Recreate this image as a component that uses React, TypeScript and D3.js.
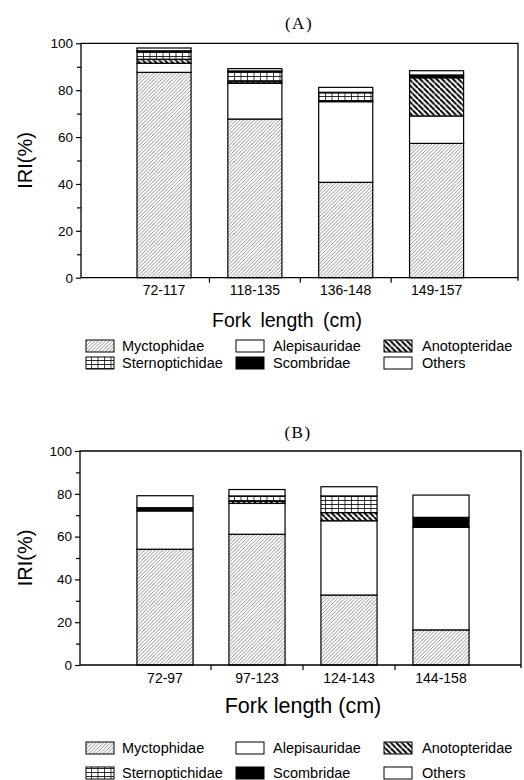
import React, { useRef, useEffect } from 'react';
import * as d3 from 'd3';

// families in stacking order (bottom to top)
const families = ['Myctophidae', 'Alepisauridae', 'Anotopteridae', 'Sternoptichidae', 'Scombridae', 'Others'];

// Panel A
const groupsA = ['72-117', '118-135', '136-148', '149-157'];
const myctA = [87.6, 67.7, 40.7, 57.3];
const alepA = [3.9, 15.2, 34.4, 11.7];
const anotA = [1.7, 0.7, 0.3, 16.3];
const sternA = [3.2, 4.3, 3.5, 0];
const scombA = [0.4, 0.3, 0.2, 1.2];
const othersA = [1.2, 1.0, 2.1, 1.8];

// Panel B
const groupsB = ['72-97', '97-123', '124-143', '144-158'];
const myctB = [54.1, 61.1, 32.7, 16.4];
const alepB = [17.9, 14.4, 34.7, 47.9];
const anotB = [0, 1.0, 3.8, 0];
const sternB = [0, 2.5, 7.8, 0];
const scombB = [1.5, 0, 0, 4.7];
const othersB = [5.6, 3.0, 4.3, 10.4];

const yTicks = [0, 20, 40, 60, 80, 100];
const yMinor = [10, 30, 50, 70, 90];

const fills: Record<string, string> = {
  Myctophidae: 'url(#hatch)',
  Alepisauridae: '#fff',
  Anotopteridae: 'url(#thick)',
  Sternoptichidae: 'url(#grid)',
  Scombridae: '#000',
  Others: '#fff',
};

const sans = '"Liberation Sans", Arial, sans-serif';

const App = () => {
  const ref = useRef<SVGSVGElement>(null);

  useEffect(() => {
    const svg = d3.select(ref.current);
    svg.selectAll('*').remove();

    const defs = svg.append('defs');
    const hatch = defs.append('pattern').attr('id', 'hatch')
      .attr('patternUnits', 'userSpaceOnUse').attr('width', 3.6).attr('height', 3.6);
    hatch.append('rect').attr('width', 3.6).attr('height', 3.6).attr('fill', '#fff');
    hatch.append('path').attr('d', 'M-1,1 l2,-2 M0,3.6 l3.6,-3.6 M2.6,4.6 l2,-2')
      .attr('stroke', '#333').attr('stroke-width', 0.55);

    const thick = defs.append('pattern').attr('id', 'thick')
      .attr('patternUnits', 'userSpaceOnUse').attr('width', 5.5).attr('height', 5.5);
    thick.append('rect').attr('width', 5.5).attr('height', 5.5).attr('fill', '#fff');
    thick.append('path').attr('d', 'M0,0 l5.5,5.5 M-1.5,4 l1.5,1.5 M4,-1.5 l1.5,1.5')
      .attr('stroke', '#000').attr('stroke-width', 2);

    const grid = defs.append('pattern').attr('id', 'grid')
      .attr('patternUnits', 'userSpaceOnUse').attr('width', 6.5).attr('height', 4);
    grid.append('rect').attr('width', 6.5).attr('height', 4).attr('fill', '#fff');
    grid.append('path').attr('d', 'M0.5,0 V4 M0,0.5 H6.5')
      .attr('stroke', '#000').attr('stroke-width', 0.8);

    const drawPanel = (cfg: any, groups: string[], series: number[][]) => {
      const g = svg.append('g');

      const rows = groups.map((grp, i) => {
        const r: any = { group: grp };
        families.forEach((f, k) => { r[f] = series[k][i]; });
        return r;
      });

      const x = d3.scaleBand().domain(groups)
        .range([cfg.bandStart, cfg.bandEnd])
        .paddingInner(cfg.pad).paddingOuter(cfg.pad / 2);
      const y = d3.scaleLinear().domain([0, 100]).range([cfg.bottom, cfg.top]);

      const stacked = d3.stack().keys(families)(rows);

      // title
      g.append('text').attr('x', cfg.titleX).attr('y', cfg.titleY)
        .attr('text-anchor', 'middle').attr('dy', '0.35em')
        .attr('font-family', '"Liberation Serif", serif').attr('font-size', 17)
        .attr('letter-spacing', 1.5)
        .text(cfg.title);

      // bars
      stacked.forEach(layer => {
        g.append('g').selectAll('rect').data(layer).enter().append('rect')
          .attr('x', d => x(d.data.group as string)!)
          .attr('width', x.bandwidth())
          .attr('y', d => y(d[1]))
          .attr('height', d => Math.max(0, y(d[0]) - y(d[1])))
          .attr('fill', fills[layer.key])
          .attr('stroke', '#000')
          .attr('stroke-width', d => (d[1] - d[0] > 0 ? 1.2 : 0));
      });

      // frame
      g.append('path')
        .attr('d', `M${cfg.left},${cfg.bottom} V${cfg.top} H${cfg.right} V${cfg.bottom + 3} M${cfg.left},${cfg.bottom} H${cfg.right}`)
        .attr('fill', 'none').attr('stroke', '#000').attr('stroke-width', 1.3);

      // y axis
      const yAxis = g.append('g').attr('transform', `translate(${cfg.left},0)`)
        .call(d3.axisLeft(y).tickValues(yTicks).tickSize(5).tickPadding(3));
      yAxis.select('.domain').remove();
      yAxis.selectAll('text').attr('font-family', sans).attr('font-size', 13.5).attr('fill', '#000');
      yAxis.selectAll('line').attr('stroke-width', 1.2);
      const yMin = g.append('g').attr('transform', `translate(${cfg.left},0)`)
        .call(d3.axisLeft(y).tickValues(yMinor).tickSize(4).tickFormat(() => ''));
      yMin.select('.domain').remove();
      yMin.selectAll('line').attr('stroke-width', 1.2);

      // x ticks at band boundaries
      const step = x.step();
      const bounds = groups.slice(1).map(grp => x(grp)! - (step * cfg.pad) / 2);
      g.append('g').selectAll('line').data(bounds).enter().append('line')
        .attr('x1', d => d).attr('x2', d => d)
        .attr('y1', cfg.bottom).attr('y2', cfg.bottom + 5)
        .attr('stroke', '#000').attr('stroke-width', 1.2);

      g.append('g').selectAll('text').data(groups).enter().append('text')
        .attr('x', d => x(d)! + x.bandwidth() / 2)
        .attr('y', cfg.xLabelY).attr('dy', '0.35em')
        .attr('text-anchor', 'middle')
        .attr('font-family', sans).attr('font-size', 14)
        .text(d => d);

      // axis titles
      g.append('text').attr('x', cfg.xTitleX).attr('y', cfg.xTitleY).attr('dy', '0.35em')
        .attr('text-anchor', 'middle').attr('font-family', sans)
        .attr('font-size', cfg.xTitleSize).attr('word-spacing', cfg.wordSpacing)
        .text('Fork length (cm)');

      g.append('text')
        .attr('transform', `translate(25,${(cfg.top + cfg.bottom) / 2}) rotate(-90)`)
        .attr('dy', '0.35em').attr('text-anchor', 'middle')
        .attr('font-family', sans).attr('font-size', 20)
        .text('IRI(%)');

      // legend
      const swX = [86, 236, 384];
      const txX = [122, 273, 422];
      families.forEach((f, k) => {
        const col = k % 3;
        const rowY = cfg.legendY[Math.floor(k / 3)];
        g.append('rect').attr('x', swX[col]).attr('y', rowY - 6)
          .attr('width', 28).attr('height', 12)
          .attr('fill', fills[f]).attr('stroke', '#000').attr('stroke-width', 1);
        g.append('text').attr('x', txX[col]).attr('y', rowY).attr('dy', '0.35em')
          .attr('font-family', sans).attr('font-size', 14.5)
          .text(f);
      });
    };

    drawPanel({
      title: '(A)', titleX: 299, titleY: 23,
      left: 81, right: 518, top: 43.3, bottom: 277.7,
      bandStart: 118.6, bandEnd: 482, pad: 0.405,
      xLabelY: 290, xTitleX: 287, xTitleY: 320, xTitleSize: 19.5, wordSpacing: 4,
      legendY: [346, 363],
    }, groupsA, [myctA, alepA, anotA, sternA, scombA, othersA]);

    drawPanel({
      title: '(B)', titleX: 298, titleY: 432,
      left: 80, right: 521, top: 451, bottom: 665,
      bandStart: 119, bandEnd: 487, pad: 0.39,
      xLabelY: 678, xTitleX: 303, xTitleY: 705, xTitleSize: 21.5, wordSpacing: 0,
      legendY: [748, 773],
    }, groupsB, [myctB, alepB, anotB, sternB, scombB, othersB]);
  }, []);

  return (
    <svg ref={ref} width={524} height={780}
      style={{ position: 'absolute', left: 0, top: 0, background: '#fff' }} />
  );
};

export default App;
